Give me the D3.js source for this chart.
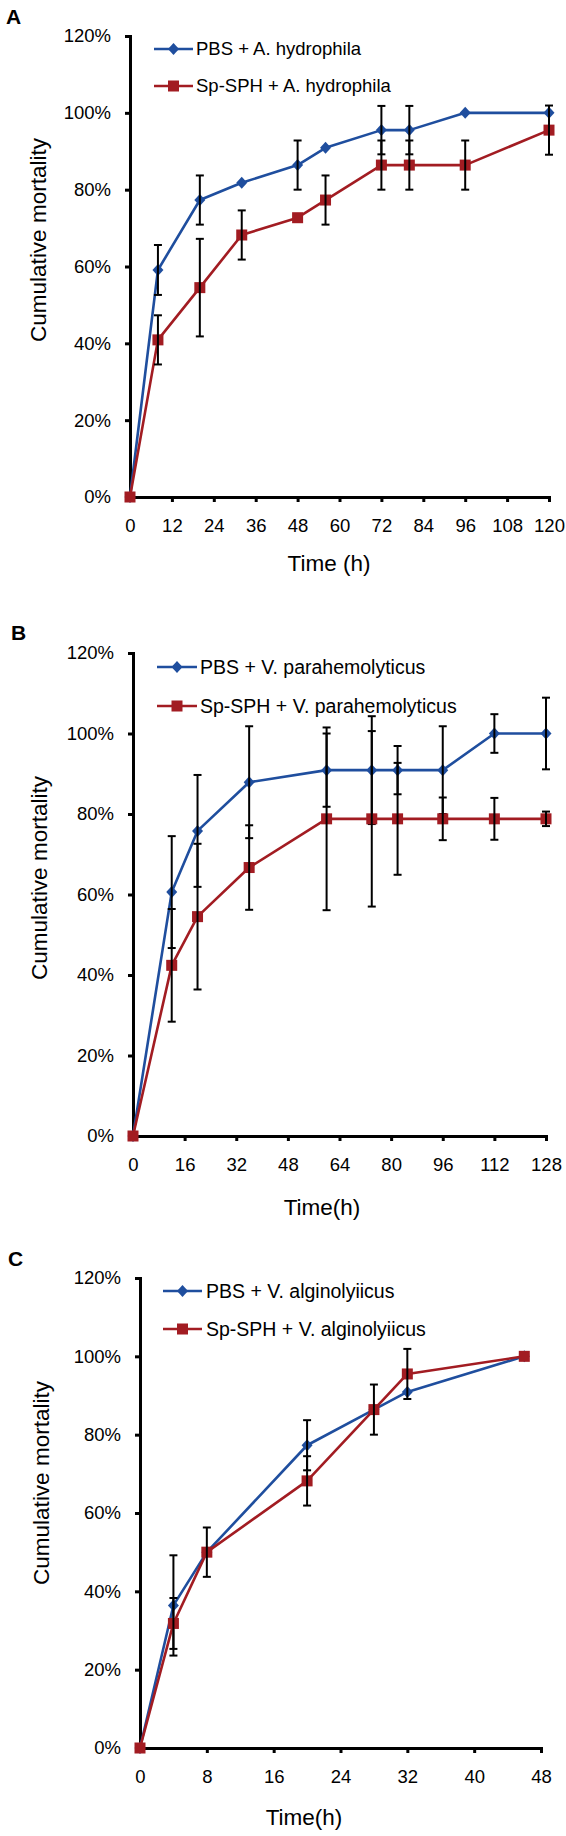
<!DOCTYPE html>
<html>
<head>
<meta charset="utf-8">
<script src="https://cdn.jsdelivr.net/npm/d3@7"></script>
<style>
  html, body { margin: 0; padding: 0; background: #fff; }
  svg { display: block; font-family: "Liberation Sans", Arial, Helvetica, sans-serif; }
</style>
</head>
<body>
<script>
// ---------------- DATA ----------------
const yTicks = [0, 20, 40, 60, 80, 100, 120];

// Panel A: A. hydrophila
const timeA = [0, 8, 20, 32, 48, 56, 72, 80, 96, 120];
const pbsA = [0, 59.1, 77.3, 81.8, 86.4, 90.9, 95.5, 95.5, 100, 100];
const pbsErrA = [0, 6.5, 6.4, 0, 6.4, 0, 6.3, 6.3, 0, 0];
const sphA = [0, 40.9, 54.5, 68.2, 72.7, 77.3, 86.4, 86.4, 86.4, 95.5];
const sphErrA = [0, 6.4, 12.7, 6.4, 0, 6.4, 6.4, 6.4, 6.4, 6.4];
const xTicksA = [0, 12, 24, 36, 48, 60, 72, 84, 96, 108, 120];
const legendA = ["PBS + A. hydrophila", "Sp-SPH + A. hydrophila"];

// Panel B: V. parahemolyticus
const timeB = [0, 12, 20, 36, 60, 74, 82, 96, 112, 128];
const pbsB = [0, 60.6, 75.8, 87.9, 90.9, 90.9, 90.9, 90.9, 100, 100];
const pbsErrB = [0, 13.9, 13.9, 13.9, 9.1, 13.4, 6.0, 10.9, 4.8, 8.9];
const sphB = [0, 42.4, 54.5, 66.7, 78.8, 78.8, 78.8, 78.8, 78.8, 78.8];
const sphErrB = [0, 14.0, 18.1, 10.5, 22.7, 21.8, 13.9, 5.3, 5.2, 1.8];
const xTicksB = [0, 16, 32, 48, 64, 80, 96, 112, 128];
const legendB = ["PBS + V. parahemolyticus", "Sp-SPH + V. parahemolyticus"];

// Panel C: V. alginolyiicus
const timeC = [0, 4, 8, 20, 28, 32, 46];
const pbsC = [0, 36.4, 50, 77.3, 86.4, 90.9, 100];
const pbsErrC = [0, 12.8, 0, 6.4, 0, 0, 0];
const sphC = [0, 31.8, 50, 68.2, 86.4, 95.5, 100];
const sphErrC = [0, 6.5, 6.3, 6.3, 6.4, 6.4, 0];
const xTicksC = [0, 8, 16, 24, 32, 40, 48];
const legendC = ["PBS + V. alginolyiicus", "Sp-SPH + V. alginolyiicus"];

// ---------------- STYLE / LAYOUT ----------------
const BLUE = "#1f4e9e";
const RED = "#a21c22";
const W = 566, H = 1836;

const panels = [
  { letter: "A", lx: 6, ly: 24,
    time: timeA, pbs: pbsA, pbsErr: pbsErrA, sph: sphA, sphErr: sphErrA,
    xTicks: xTicksA, xMax: 120, legend: legendA, xTitle: "Time (h)",
    left: 130, right: 549, top: 36, bottom: 497,
    legX1: 154, legX2: 193, legTextX: 196, legY: [49, 86], legFont: 18.5,
    yTitleX: 38, yTitleY: 240, xTitleX: 329, xTitleY: 571 },
  { letter: "B", lx: 11, ly: 640,
    time: timeB, pbs: pbsB, pbsErr: pbsErrB, sph: sphB, sphErr: sphErrB,
    xTicks: xTicksB, xMax: 128, legend: legendB, xTitle: "Time(h)",
    left: 133, right: 546, top: 653, bottom: 1136,
    legX1: 157, legX2: 197, legTextX: 200, legY: [667, 706], legFont: 19.5,
    yTitleX: 39, yTitleY: 878, xTitleX: 322, xTitleY: 1215 },
  { letter: "C", lx: 8, ly: 1266,
    time: timeC, pbs: pbsC, pbsErr: pbsErrC, sph: sphC, sphErr: sphErrC,
    xTicks: xTicksC, xMax: 48, legend: legendC, xTitle: "Time(h)",
    left: 140, right: 541, top: 1278, bottom: 1748,
    legX1: 163, legX2: 202, legTextX: 206, legY: [1291, 1329], legFont: 19.5,
    yTitleX: 41, yTitleY: 1483, xTitleX: 304, xTitleY: 1825 }
];

const svg = d3.select("body").append("svg").attr("width", W).attr("height", H);

function diamond(g, cx, cy, color) {
  g.append("path")
    .attr("d", `M${cx},${cy - 6}L${cx + 5.5},${cy}L${cx},${cy + 6}L${cx - 5.5},${cy}Z`)
    .attr("fill", color);
}
function square(g, cx, cy, color) {
  g.append("rect").attr("x", cx - 5.5).attr("y", cy - 5.5).attr("width", 11).attr("height", 11)
    .attr("fill", color);
}

function drawPanel(p) {
  const g = svg.append("g");
  const x = d3.scaleLinear().domain([0, p.xMax]).range([p.left, p.right]);
  const y = d3.scaleLinear().domain([0, 120]).range([p.bottom, p.top]);

  // letter
  g.append("text").attr("x", p.lx).attr("y", p.ly).text(p.letter)
    .attr("font-size", 21).attr("font-weight", "bold");

  // axes
  const gx = g.append("g").attr("transform", `translate(0,${p.bottom})`)
    .call(d3.axisBottom(x).tickValues(p.xTicks).tickFormat(d3.format("d"))
      .tickSize(5).tickSizeOuter(0).tickPadding(17));
  const gy = g.append("g").attr("transform", `translate(${p.left},0)`)
    .call(d3.axisLeft(y).tickValues(yTicks).tickFormat(d => d + "%")
      .tickSize(5).tickSizeOuter(0).tickPadding(14));
  [gx, gy].forEach(a => {
    a.select(".domain").attr("stroke", "#000").attr("stroke-width", 3).attr("stroke-linecap", "square");
    a.selectAll(".tick line").attr("stroke", "#000").attr("stroke-width", 3);
    a.selectAll(".tick text").attr("font-size", 18.5).attr("fill", "#000")
      .attr("font-family", "'Liberation Sans', Arial, sans-serif");
  });

  // titles
  g.append("text").attr("transform", `translate(${p.yTitleX},${p.yTitleY}) rotate(-90)`)
    .attr("text-anchor", "middle").attr("dy", "0.35em").attr("font-size", 22.5)
    .text("Cumulative mortality");
  g.append("text").attr("x", p.xTitleX).attr("y", p.xTitleY)
    .attr("text-anchor", "middle").attr("font-size", 22.5).text(p.xTitle);

  const series = [
    { vals: p.pbs, errs: p.pbsErr, color: BLUE, marker: diamond },
    { vals: p.sph, errs: p.sphErr, color: RED, marker: square }
  ];

  const line = d3.line().x((d, i) => x(p.time[i])).y(d => y(d));

  series.forEach(s => {
    const sg = g.append("g");
    sg.append("path").datum(s.vals).attr("d", line)
      .attr("fill", "none").attr("stroke", s.color).attr("stroke-width", 2.6)
      .attr("stroke-linejoin", "round");
    s.vals.forEach((v, i) => s.marker(sg, x(p.time[i]), y(v), s.color));
    s.vals.forEach((v, i) => {
      const e = s.errs[i];
      if (!e) return;
      const cx = x(p.time[i]);
      const yt = y(v + e), yb = y(v - e);
      sg.append("line").attr("x1", cx).attr("x2", cx).attr("y1", yt).attr("y2", yb)
        .attr("stroke", "#000").attr("stroke-width", 2);
      [yt, yb].forEach(yy => sg.append("line").attr("x1", cx - 4).attr("x2", cx + 4)
        .attr("y1", yy).attr("y2", yy).attr("stroke", "#000").attr("stroke-width", 2));
    });
  });

  // legend
  series.forEach((s, k) => {
    const ly = p.legY[k];
    g.append("line").attr("x1", p.legX1).attr("x2", p.legX2).attr("y1", ly).attr("y2", ly)
      .attr("stroke", s.color).attr("stroke-width", 2.6);
    s.marker(g, (p.legX1 + p.legX2) / 2, ly, s.color);
    g.append("text").attr("x", p.legTextX).attr("y", ly).attr("dy", "0.35em")
      .attr("font-size", p.legFont).text(p.legend[k]);
  });
}

panels.forEach(drawPanel);
</script>
</body>
</html>
